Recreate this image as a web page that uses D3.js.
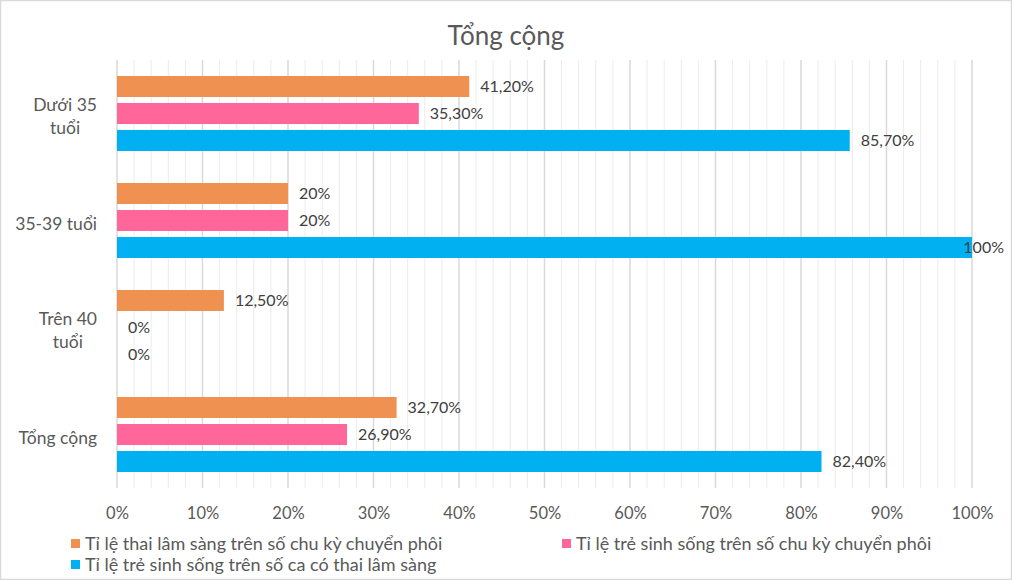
<!DOCTYPE html>
<html><head><meta charset="utf-8">
<script src="https://cdn.jsdelivr.net/npm/d3@7"></script>
<style>body{margin:0;background:#fff;}svg{display:block;font-family:Lato,"Open Sans",sans-serif;}</style>
</head><body>
<svg id="c" width="1012" height="580"></svg>
<script>
const categories = ["Dưới 35 tuổi", "35-39 tuổi", "Trên 40 tuổi", "Tổng cộng"];
const categoryLines = [["Dưới 35", "tuổi"], ["35-39 tuổi"], ["Trên 40", "tuổi"], ["Tổng cộng"]];
const seriesNames = ["Tỉ lệ thai lâm sàng trên số chu kỳ chuyển phôi", "Tỉ lệ trẻ sinh sống trên số chu kỳ chuyển phôi", "Tỉ lệ trẻ sinh sống trên số ca có thai lâm sàng"];
const clinicalPregnancy = [41.2, 20, 12.5, 32.7];
const liveBirthPerCycle = [35.3, 20, 0, 26.9];
const liveBirthPerPregnancy = [85.7, 100, 0, 82.4];
const xTicks = [0, 10, 20, 30, 40, 50, 60, 70, 80, 90, 100];
const colors = ["#EF9150", "#FF6699", "#00B0F0"];

const seriesValues = [clinicalPregnancy, liveBirthPerCycle, liveBirthPerPregnancy];
const svg = d3.select("#c");
const W = 1012, H = 580;
const m = {left: 117, right: 40, top: 60, bottom: 92};
const x = d3.scaleLinear().domain([0, 100]).range([m.left, W - m.right]);
const y = d3.scaleBand().domain(categories).range([m.top, H - m.bottom]);
const y1 = d3.scaleBand().domain(seriesNames).range([16, 91]).paddingInner(6/27);

svg.append("rect").attr("x", 0.5).attr("y", 0.5).attr("width", W - 1).attr("height", H - 1)
  .attr("fill", "#fff").attr("stroke", "#d9d9d9").attr("stroke-width", 1.5);

svg.append("text").attr("x", W / 2).attr("y", 36).attr("dy", "0.35em").attr("text-anchor", "middle")
  .attr("font-size", 26).attr("fill", "#595959").text("Tổng cộng");

// gridlines
const minor = d3.range(0, 101, 2).filter(v => v % 10 !== 0);
svg.append("g").selectAll("line").data(minor).join("line")
  .attr("x1", d => x(d)).attr("x2", d => x(d)).attr("y1", m.top).attr("y2", H - m.bottom)
  .attr("stroke", "#ececec").attr("stroke-width", 1);
svg.append("g").selectAll("line").data(xTicks).join("line")
  .attr("x1", d => x(d)).attr("x2", d => x(d)).attr("y1", m.top).attr("y2", H - m.bottom)
  .attr("stroke", "#d9d9d9").attr("stroke-width", 1.5);

// x axis labels
const xa = svg.append("g").attr("transform", `translate(0,${H - m.bottom})`)
  .call(d3.axisBottom(x).tickValues(xTicks).tickFormat(d => d + "%").tickSize(0).tickPadding(0));
xa.select(".domain").remove();
xa.selectAll("text").attr("y", 25).attr("dy", "0.35em").attr("font-size", 16.5).attr("fill", "#595959").attr("font-family", "Lato,sans-serif");

// bars
const fmt = v => Number.isInteger(v) ? v + "%" : v.toFixed(2).replace(".", ",") + "%";
seriesNames.forEach((s, si) => {
  const g = svg.append("g");
  g.selectAll("rect").data(categories).join("rect")
    .attr("x", x(0)).attr("y", (c) => y(c) + y1(s))
    .attr("width", (c, i) => x(seriesValues[si][i]) - x(0))
    .attr("height", y1.bandwidth()).attr("fill", colors[si]);
  g.selectAll("text").data(categories).join("text")
    .attr("y", c => y(c) + y1(s) + y1.bandwidth() / 2)
    .attr("dy", "0.35em").attr("font-size", 16).attr("fill", "#404040")
    .text((c, i) => fmt(seriesValues[si][i]))
    .attr("x", function(c, i) {
      const w = this.getComputedTextLength();
      return Math.min(x(seriesValues[si][i]) + 11, W - 8 - w);
    });
});

// category labels
categories.forEach((c, i) => {
  const lines = categoryLines[i];
  const g = svg.append("g");
  const lh = 23;
  const cy = y(c) + y.bandwidth() / 2 + 3;
  const ts = lines.map((l, j) => g.append("text").attr("font-size", 17.5).attr("fill", "#595959")
    .attr("y", cy + (j - (lines.length - 1) / 2) * lh).attr("dy", "0.35em").text(l));
  const maxW = d3.max(ts, t => t.node().getComputedTextLength());
  const cx = 97 - maxW / 2;
  ts.forEach(t => t.attr("x", cx).attr("text-anchor", "middle"));
});

// legend
const legendPos = [[71, 544], [562, 544], [71, 565]];
seriesNames.forEach((s, si) => {
  const [lx, ly] = legendPos[si];
  svg.append("rect").attr("x", lx).attr("y", ly - 5).attr("width", 9).attr("height", 9).attr("fill", colors[si]);
  svg.append("text").attr("x", lx + 14).attr("y", ly).attr("dy", "0.35em")
    .attr("font-size", 18).attr("fill", "#595959").text(s);
});
</script>
</body></html>
